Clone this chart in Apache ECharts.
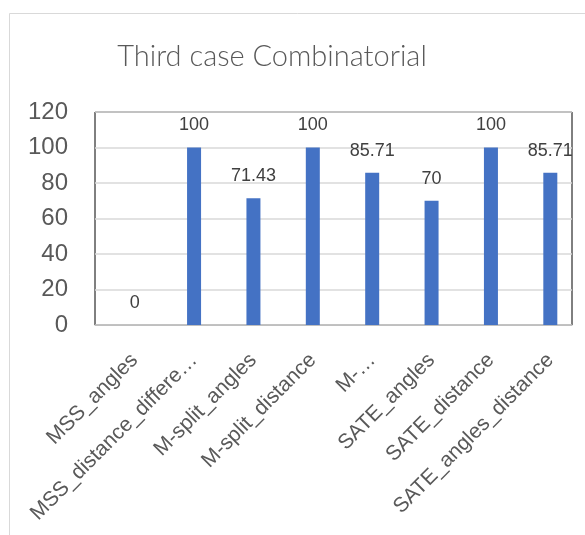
<!DOCTYPE html>
<html>
<head>
<meta charset="utf-8">
<script src="https://cdn.jsdelivr.net/npm/echarts@6/dist/echarts.min.js"></script>
<style>
  html, body { margin: 0; padding: 0; background: #fff; }
  #chart { width: 585px; height: 535px; }
</style>
</head>
<body>
<div id="chart"></div>
<script>
// Category names as shown on the axis (two are truncated by the axis)
const categories = [
  'MSS_angles',
  'MSS_distance_differe\u2026',
  'M-split_angles',
  'M-split_distance',
  'M-\u2026',
  'SATE_angles',
  'SATE_distance',
  'SATE_angles_distance'
];
// Score for each method
const values = [0, 100, 71.43, 100, 85.71, 70, 100, 85.71];
// Value axis ticks
const yTicks = [0, 20, 40, 60, 80, 100, 120];

const FONT = '"Liberation Sans", sans-serif';
const TITLE_FONT = 'Lato, "Liberation Sans", sans-serif';
const chart = echarts.init(document.getElementById('chart'), null, { renderer: 'canvas' });

chart.setOption({
  animation: false,
  backgroundColor: '#fff',
  title: {
    text: 'Third case Combinatorial',
    left: 267, top: 37, textAlign: 'center',
    textStyle: { fontFamily: TITLE_FONT, fontSize: 29, fontWeight: 300, color: '#595959' }
  },
  graphic: [{
    type: 'rect', z: -10, silent: true,
    shape: { x: 9.5, y: 13.5, width: 600, height: 540 },
    style: { fill: 'none', stroke: '#d9d9d9', lineWidth: 1 }
  }],
  grid: [
    { left: 95, top: 112, width: 477, height: 213, show: true, borderColor: '#000', borderWidth: 1, backgroundColor: 'transparent' },
    { left: 105, top: 112, width: 475, height: 213 }
  ],
  xAxis: [
    {
      type: 'category', gridIndex: 0, data: categories,
      axisLine: { show: true, lineStyle: { color: '#bfbfbf', width: 1 } },
      axisTick: { show: false }, axisLabel: { show: false }, splitLine: { show: false }
    },
    {
      type: 'category', gridIndex: 1, data: categories,
      axisLine: { show: false }, axisTick: { show: false },
      axisLabel: {
        interval: 0, rotate: 45, margin: 32,
        fontFamily: FONT, fontSize: 21, color: '#595959'
      }
    }
  ],
  yAxis: [
    {
      type: 'value', gridIndex: 0, min: yTicks[0], max: yTicks[yTicks.length - 1], interval: 20,
      axisLine: { show: false }, axisTick: { show: false },
      axisLabel: { margin: 27, fontFamily: FONT, fontSize: 24, color: '#595959' },
      splitLine: { lineStyle: { color: '#d9d9d9', width: 1.5 } }
    },
    {
      type: 'value', gridIndex: 1, min: yTicks[0], max: yTicks[yTicks.length - 1], interval: 20,
      show: false
    }
  ],
  series: [{
    type: 'bar', xAxisIndex: 1, yAxisIndex: 1,
    data: values, barWidth: 14,
    itemStyle: { color: '#4472c4' },
    label: {
      show: true, position: 'top', distance: 13,
      fontFamily: FONT, fontSize: 18, color: '#404040'
    }
  }]
});
</script>
</body>
</html>
